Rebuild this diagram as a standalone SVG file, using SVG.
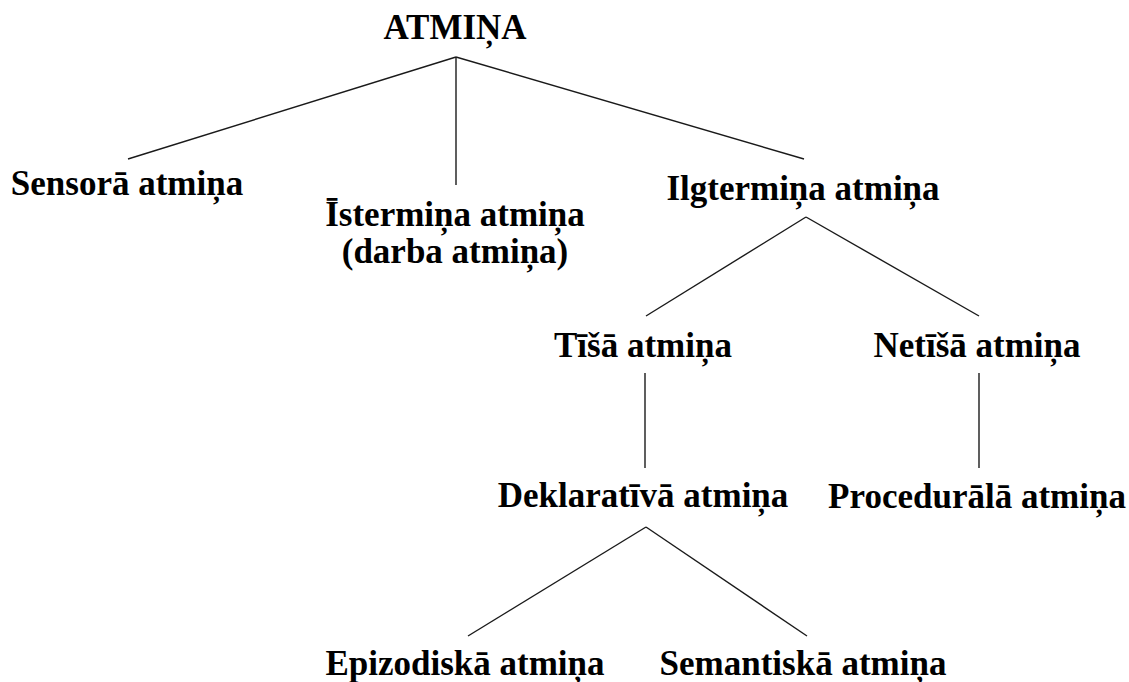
<svg xmlns="http://www.w3.org/2000/svg" width="1129" height="682" viewBox="0 0 1129 682">
<style>
text{font-family:"Liberation Serif","Times New Roman",serif;font-weight:bold;font-size:35px;fill:#000;text-anchor:middle}
.c line{stroke:#1a1a1a;stroke-width:1.4}
</style>
<rect width="1129" height="682" fill="#fff"/>
<g class="c" id="connectors">
<line x1="456" y1="57" x2="128" y2="159"/>
<line x1="456" y1="57" x2="456" y2="185"/>
<line x1="456" y1="57" x2="804" y2="159"/>
<line x1="806" y1="217" x2="646" y2="316"/>
<line x1="806" y1="217" x2="979" y2="316"/>
<line x1="645" y1="373" x2="645" y2="468"/>
<line x1="979" y1="373" x2="979" y2="468"/>
<line x1="646" y1="527" x2="468" y2="636"/>
<line x1="646" y1="527" x2="807" y2="636"/>
</g>
<g id="atmina"><text x="455" y="39">ATMIŅA</text></g>
<g id="sensora"><text x="127" y="195">Sensorā atmiņa</text></g>
<g id="isterminas"><text x="455" y="226">Īstermiņa atmiņa</text><text x="455" y="263">(darba atmiņa)</text></g>
<g id="ilgterminas"><text x="803" y="200">Ilgtermiņa atmiņa</text></g>
<g id="tisa"><text x="643" y="357">Tīšā atmiņa</text></g>
<g id="netisa"><text x="977" y="357">Netīšā atmiņa</text></g>
<g id="deklarativa"><text x="643" y="507">Deklaratīvā atmiņa</text></g>
<g id="procedurala"><text x="977" y="508">Procedurālā atmiņa</text></g>
<g id="epizodiska"><text x="465" y="675">Epizodiskā atmiņa</text></g>
<g id="semantiska"><text x="803" y="675">Semantiskā atmiņa</text></g>
</svg>
